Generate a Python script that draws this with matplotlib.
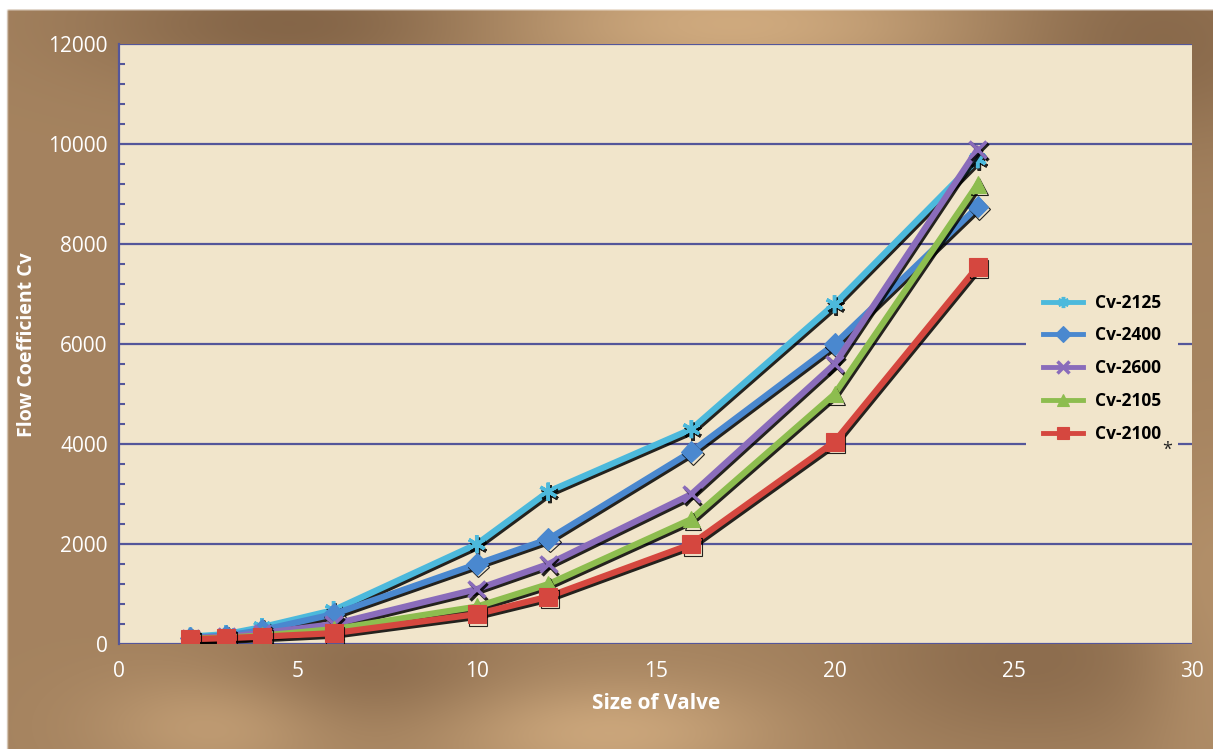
import numpy as np
import matplotlib.pyplot as plt
import matplotlib.patheffects as pe
from matplotlib.ticker import MultipleLocator

sizes = [2, 3, 4, 6, 10, 12, 16, 20, 24]
cv_2125 = [150, 200, 340, 680, 2000, 3050, 4300, 6800, 9700]
cv_2400 = [130, 170, 280, 600, 1600, 2100, 3850, 6000, 8750]
cv_2600 = [120, 150, 220, 400, 1100, 1600, 3000, 5600, 9900]
cv_2105 = [110, 130, 170, 300, 750, 1200, 2500, 5000, 9200]
cv_2100 = [100, 120, 150, 220, 600, 950, 2000, 4050, 7550]

series = [
    ("Cv-2125", cv_2125, "#4cb9dc", (6, 2, 0), 13),
    ("Cv-2400", cv_2400, "#4a88cf", "D", 11),
    ("Cv-2600", cv_2600, "#8a6cbb", "x", 12),
    ("Cv-2105", cv_2105, "#8dbd4f", "^", 12),
    ("Cv-2100", cv_2100, "#d5473f", "s", 13),
]

plt.rcParams['font.family'] = ['Open Sans', 'DejaVu Sans']

fig = plt.figure(figsize=(12.13, 7.49), dpi=100)

# brushed-bronze background built from a few soft light/dark patches
bg = fig.add_axes([0, 0, 1, 1], zorder=-10)
yy, xx = np.mgrid[0:1:300j, 0:1:480j]
patches = [  # x, y (from top), sx, sy, strength
    (0.25, 0.03, 0.12, 0.06, -0.35),
    (0.60, 0.03, 0.14, 0.06, 0.45),
    (0.95, 0.05, 0.10, 0.10, -0.30),
    (0.18, 0.97, 0.07, 0.05, 0.30),
    (0.30, 0.90, 0.08, 0.06, -0.25),
    (0.50, 0.98, 0.10, 0.05, 0.40),
    (0.85, 0.88, 0.10, 0.08, -0.25),
    (1.00, 0.85, 0.04, 0.15, 0.20),
]
field = np.full(xx.shape, 0.42)
for px, py, sx, sy, k in patches:
    field += k * np.exp(-((xx - px) ** 2) / (2 * sx ** 2) - ((yy - py) ** 2) / (2 * sy ** 2))
field = np.clip(field, 0, 1)
dark = np.array([0.49, 0.37, 0.26])
light = np.array([0.86, 0.71, 0.53])
img = dark * (1 - field[..., None]) + light * field[..., None]
img[yy < 0.013] = 1.0
img[xx < 0.006] = 1.0
bg.imshow(img, aspect='auto', extent=[0, 1, 0, 1], origin='upper', interpolation='bilinear')
bg.axis('off')

ax = fig.add_axes([0.098, 0.140, 0.885, 0.801])
ax.set_facecolor("#f1e5cb")

for label, vals, color, marker, ms in series:
    ax.plot(sizes, vals, color=color, lw=4.5, marker=marker, markersize=ms,
            markeredgecolor=color, markeredgewidth=2.5 if marker in ("x", (6, 2, 0)) else 0.8,
            label=label, solid_joinstyle='round',
            path_effects=[pe.SimpleLineShadow(offset=(1.2, -1.8), shadow_color='black', alpha=0.85),
                          pe.Normal()])

ax.set_xlim(0, 30)
ax.set_ylim(0, 12000)
ax.yaxis.set_major_locator(MultipleLocator(2000))
ax.yaxis.set_minor_locator(MultipleLocator(400))
ax.xaxis.set_major_locator(MultipleLocator(5))
ax.grid(axis='y', which='major', color='#54569a', lw=1.6)
ax.set_axisbelow(True)

for s in ['top', 'right', 'bottom']:
    ax.spines[s].set_visible(False)
ax.spines['left'].set_color('#54569a')
ax.spines['left'].set_linewidth(1.6)

ax.tick_params(axis='y', which='minor', direction='in', length=4, width=1.5, color='#54569a')
ax.tick_params(axis='y', which='major', direction='in', length=0, labelsize=15,
               labelcolor='white', pad=8)
ax.tick_params(axis='x', which='major', length=0, labelsize=15, labelcolor='white', pad=12)

ax.set_xlabel('Size of Valve', fontsize=15, fontweight='bold', color='white', labelpad=8)
ax.set_ylabel('Flow Coefficient Cv', fontsize=14, fontweight='bold', color='white', labelpad=8)

leg = ax.legend(loc='center right', bbox_to_anchor=(1.0, 0.46), frameon=True,
                facecolor='#f1e5cb', edgecolor='none', framealpha=1, fancybox=False,
                prop={'weight': 'bold', 'size': 12.5}, handlelength=2.3, handletextpad=0.7,
                labelspacing=0.85, borderpad=1.0, borderaxespad=0.8)
for h in leg.legend_handles:
    h.set_linewidth(3.5)
    h.set_markersize(8)
    h.set_path_effects([])

fig.text(0.9625, 0.399, '*', fontsize=13, color='#222222', ha='center', va='center')

fig.savefig('out.png', dpi=100)
